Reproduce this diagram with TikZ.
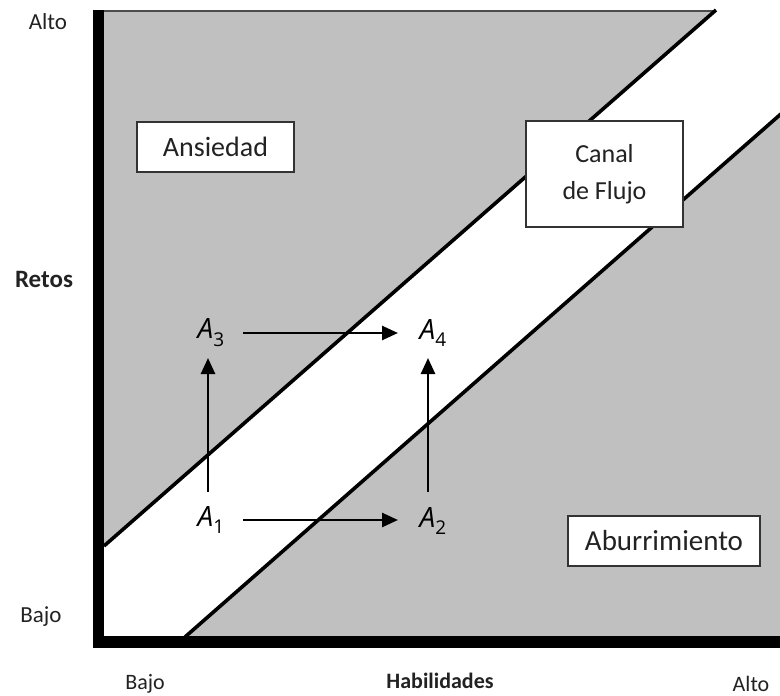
\documentclass[tikz,border=0pt]{standalone}
\usepackage{fontspec}
\setmainfont{Carlito}
\newfontfamily\afont{Open Sans}
\usetikzlibrary{arrows.meta}
\definecolor{zonegray}{HTML}{C0C0C0}
\definecolor{txt}{HTML}{222222}
\newcommand{\asub}[1]{{\afont\itshape A\raisebox{-0.28em}{\fontsize{19}{20}\selectfont\upshape #1}}}
\begin{document}
\begin{tikzpicture}[x=1pt,y=-1pt,
  lbl/.style={text=txt,font=\fontsize{22}{26}\selectfont,inner sep=0pt},
  bold/.style={lbl,font=\fontsize{22}{26}\selectfont\bfseries},
  zonebox/.style={draw=black!80,line width=1.3pt,fill=white,text=txt,font=\fontsize{27}{37}\selectfont,align=center,inner sep=0pt},
  anode/.style={font=\fontsize{28}{30}\selectfont,inner sep=2pt},
  arr/.style={line width=2.6pt,-{Triangle[length=16pt,width=14pt]}},
  diag/.style={line width=3.6pt}
]
\useasboundingbox (0,0) rectangle (780,696);
% gray regions
\fill[zonegray] (104,11) -- (715,11) -- (104,546) -- cycle;
\fill[zonegray] (185,637) -- (780,115) -- (780,637) -- cycle;
% top border
\draw[line width=1.2pt,black!70] (104,11) -- (715,11);
% diagonals
\coordinate (u1) at (104,546);
\coordinate (u2) at (716,10);
\coordinate (l1) at (185,637);
\coordinate (l2) at (782,113);
\draw[diag] (u1) -- (u2);
\draw[diag] (l1) -- (l2);
% axes
\fill[black] (93,10) rectangle (104,648);
\fill[black] (93,636) rectangle (780,648);
% zone boxes
\node[zonebox,minimum width=157pt,minimum height=50pt,font=\fontsize{28}{37}\selectfont] (ans) at (215.5,147) {Ansiedad};
\node[zonebox,minimum width=157pt,minimum height=106pt,font=\fontsize{26}{37}\selectfont] (canal) at (604.5,174) {Canal\\de Flujo};
\node[zonebox,minimum width=192pt,minimum height=50pt,font=\fontsize{29}{37}\selectfont] (abu) at (664,541) {Aburrimiento};
% axis labels
\node[lbl,font=\fontsize{23}{26}\selectfont] (altoy) at (48,22) {Alto};
\node[bold,font=\fontsize{25}{28}\selectfont\bfseries] (retos) at (44,279) {Retos};
\node[lbl,font=\fontsize{23}{26}\selectfont] (bajoy) at (41,617) {Bajo};
\node[lbl] (bajox) at (145,684) {Bajo};
\node[bold] (hab) at (440,681) {Habilidades};
\node[lbl] (altox) at (751,684) {Alto};
% A nodes
\node[anode] (a1) at (211,520) {\asub{1}};
\node[anode] (a2) at (433,521) {\asub{2}};
\node[anode] (a3) at (211,333) {\asub{3}};
\node[anode] (a4) at (433,333) {\asub{4}};
\draw[arr] (243,520) -- (398,520);
\draw[arr] (243,333) -- (398,333);
\draw[arr] (208,492) -- (208,358);
\draw[arr] (428,492) -- (428,358);
\end{tikzpicture}
\end{document}
